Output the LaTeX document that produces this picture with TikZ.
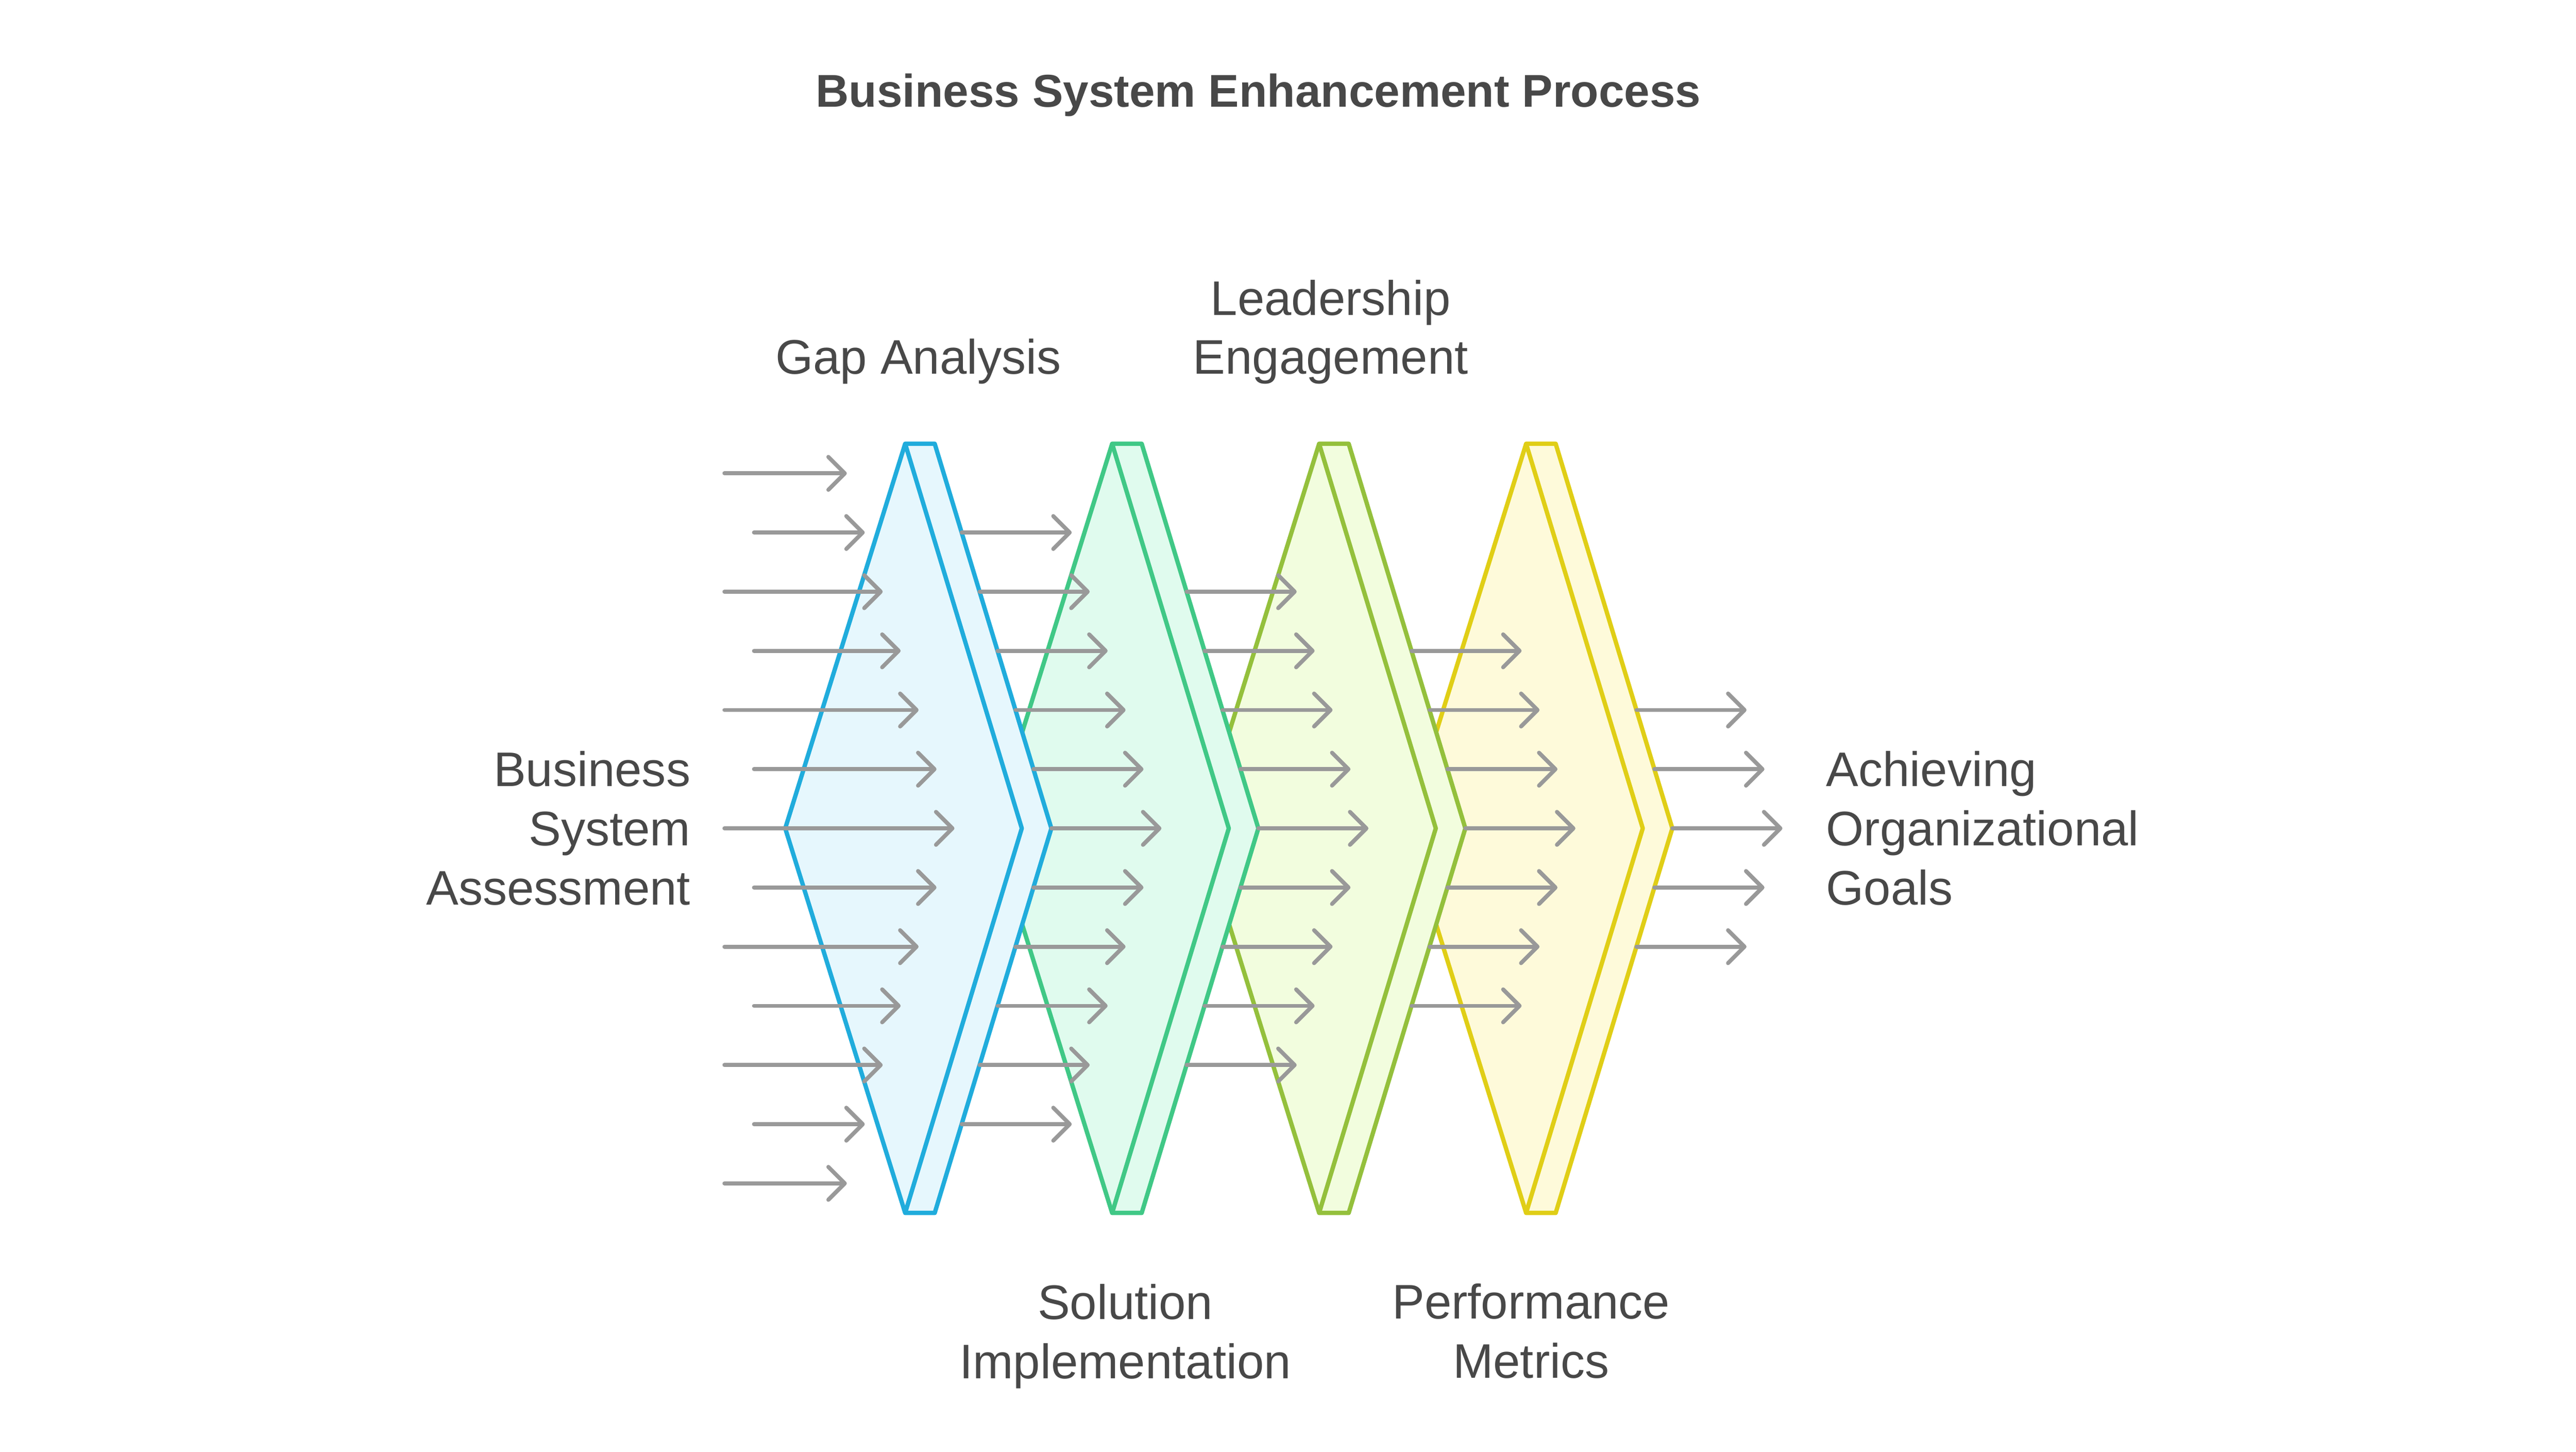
\documentclass[tikz,border=0pt]{standalone}
\usepackage{fontspec}
\setmainfont{Liberation Sans}
\usetikzlibrary{arrows.meta}

\definecolor{bluD}{HTML}{20ACDC}
\definecolor{bluF}{HTML}{E6F7FD}
\definecolor{grnD}{HTML}{40C886}
\definecolor{grnF}{HTML}{E0FBEE}
\definecolor{limD}{HTML}{94C03C}
\definecolor{limF}{HTML}{F2FDDE}
\definecolor{yelD}{HTML}{E0CE16}
\definecolor{yelF}{HTML}{FEFADA}
\definecolor{arrgray}{HTML}{999999}
\definecolor{txtgray}{HTML}{484848}

\tikzset{
	chev/.style={line width=0.75pt, line join=round},
	flow/.style={draw=arrgray, line width=0.7pt, line cap=round,
		-{Straight Barb[length=1mm, width=2mm, line cap=round, line join=round]}},
	lbl/.style={text=txtgray, inner sep=0pt, font=\fontsize{8.4}{10.24}\selectfont}
}

\begin{document}
\begin{tikzpicture}[x=0.1mm, y=-0.1mm]
		\useasboundingbox (0,0) rectangle (1568.1,883.2);
		
		% chevrons, back to front
		\foreach \i/\col in {3/yel,2/lim,1/grn,0/blu} {
			\begin{scope}[shift={(126*\i,0)}]
				\filldraw[chev, draw=\col D, fill=\col F] (551,270) -- (569,270) -- (640,504) -- (569,738) -- (551,738) -- (478,504) -- cycle;
				\draw[chev, draw=\col D] (551,270) -- (622,504) -- (551,738);
			\end{scope}
		}
		
		% arrows
		\foreach \c in {0,...,4} {
			\pgfmathtruncatemacro\n{6-\c}
			\foreach \k in {-\n,...,\n} {
				\pgfmathsetmacro\ya{504+36*\k}
				\pgfmathsetmacro\xt{581+126*\c-10.92*abs(\k)}
				\pgfmathsetmacro\xs{\c==0 ? (isodd(\k) ? 459 : 441) : (640+126*(\c-1)-10.92*abs(\k))}
				\draw[flow] (\xs,\ya) -- (\xt,\ya);
			}
		}
		
		\node[lbl, font=\bfseries\fontsize{7.95}{9.6}\selectfont] (title) at (766,58) {Business System Enhancement Process};
		
		\node[lbl, anchor=east, align=right] (assess) at (421,504) {Business\\System\\Assessment};
		\node[lbl] (gap) at (559,220) {Gap Analysis};
		\node[lbl, align=center] (solution) at (685,813) {Solution\\Implementation};
		\node[lbl, align=center] (leader) at (810,202) {Leadership\\Engagement};
		\node[lbl, align=center] (metrics) at (932,810) {Performance\\Metrics};
		\node[lbl, anchor=west, align=left] (goals) at (1111,504) {Achieving\\Organizational\\Goals};
		
	\end{tikzpicture}
\end{document}
